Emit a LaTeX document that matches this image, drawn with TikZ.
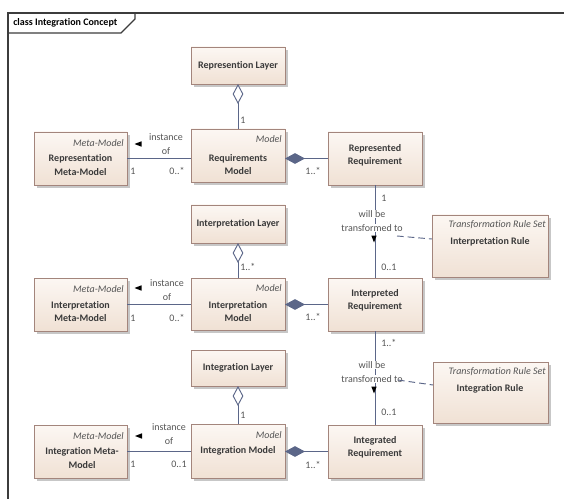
\documentclass[tikz,border=0pt]{standalone}
\usepackage{fontspec}
\setmainfont[Ligatures=NoCommon]{Carlito}
\usetikzlibrary{arrows.meta,shadows,calc}
\definecolor{boxtop}{HTML}{FCF7F3}
\definecolor{boxbot}{HTML}{F0E1D4}
\definecolor{boxline}{HTML}{A3857C}
\definecolor{connc}{HTML}{5B6688}
\definecolor{txtc}{HTML}{3A3A3A}
\definecolor{lblc}{HTML}{555555}
\definecolor{framec}{HTML}{3C3C3C}
\begin{document}
\begin{tikzpicture}[x=0.75pt,y=-0.75pt,
  umlbox/.style={draw=boxline, line width=0.6pt, top color=boxtop, bottom color=boxbot,
    drop shadow={shadow xshift=2pt, shadow yshift=-2pt, fill=black, opacity=0.22},
    inner sep=0pt, outer sep=0pt, anchor=north west},
  boxname/.style={font=\fontsize{7.5}{10}\selectfont\bfseries, text=txtc, align=center, inner sep=0pt},
  stereo/.style={font=\fontsize{7.5}{10}\selectfont\itshape, text=lblc, anchor=east, inner sep=0pt},
  lbl/.style={font=\fontsize{7.5}{10}\selectfont, text=lblc, inner sep=0pt, align=center},
  mult/.style={lbl, anchor=west},
  assoc/.style={draw=connc, line width=0.7pt},
  aggr/.style={assoc, -{Diamond[length=15pt,width=8pt,fill=white,line width=0.7pt]}},
  compo/.style={assoc, -{Diamond[length=15pt,width=8pt,fill=connc,line width=0.7pt]}},
  depend/.style={assoc, dash pattern=on 5pt off 3pt},
  wlbl/.style={lbl, fill=white, inner sep=0.6pt},
  dirmark/.style={fill=black}
]
\useasboundingbox (0,0) rectangle (564,499);
% frame
\draw[framec, line width=0.8pt] (564,13) -- (8,13) -- (8,499);
\draw[framec, line width=0.8pt] (8,33) -- (121,33) -- (135,19) -- (135,13);
\node[font=\fontsize{7.5}{10}\selectfont\bfseries, text=black, anchor=west, inner sep=0pt] (title) at (13,23) {class Integration Concept};

% ---------- boxes ----------
\node[umlbox, minimum width=70.5pt, minimum height=27.75pt] (RL) at (191,47) {};
\node[umlbox, minimum width=69.75pt, minimum height=39.75pt] (RMM) at (34,132) {};
\node[umlbox, minimum width=70.5pt, minimum height=39.75pt] (RM) at (191,129) {};
\node[umlbox, minimum width=70.5pt, minimum height=39.75pt] (RR) at (328,132) {};

\node[umlbox, minimum width=70.5pt, minimum height=28.5pt] (IL) at (191,205) {};
\node[umlbox, minimum width=69.75pt, minimum height=39.75pt] (IMM) at (34,278) {};
\node[umlbox, minimum width=70.5pt, minimum height=39pt] (IM) at (191,278) {};
\node[umlbox, minimum width=70.5pt, minimum height=39.75pt] (IR) at (328,278) {};
\node[umlbox, minimum width=87pt, minimum height=46.5pt] (IRule) at (432,215) {};

\node[umlbox, minimum width=70.5pt, minimum height=27pt] (GL) at (191,350) {};
\node[umlbox, minimum width=69.75pt, minimum height=39.75pt] (GMM) at (34,425) {};
\node[umlbox, minimum width=70.5pt, minimum height=40.5pt] (GM) at (191,424) {};
\node[umlbox, minimum width=70.5pt, minimum height=39.75pt] (GR) at (328,425) {};
\node[umlbox, minimum width=86.25pt, minimum height=45.75pt] (GRule) at (433,362) {};

% ---------- box texts ----------
\node[boxname] (RLt) at (238,65.5) {Represention Layer};
\node[stereo] (RMMs) at (124,143) {Meta-Model};
\node[boxname] (RMMt) at (80.5,165) {Representation\\Meta-Model};
\node[stereo] (RMs) at (282,139) {Model};
\node[boxname] (RMt) at (238,164.5) {Requirements\\Model};
\node[boxname] (RRt) at (375,155) {Represented\\Requirement};

\node[boxname] (ILt) at (238,223.5) {Interpretation Layer};
\node[stereo] (IMMs) at (124,289) {Meta-Model};
\node[boxname] (IMMt) at (80.5,311.5) {Interpretation\\Meta-Model};
\node[stereo] (IMs) at (282,288) {Model};
\node[boxname] (IMt) at (238,311.5) {Interpretation\\Model};
\node[boxname] (IRt) at (375,300) {Interpreted\\Requirement};
\node[stereo] (IRules) at (546,225) {Transformation Rule Set};
\node[boxname] (IRulet) at (490,242) {Interpretation Rule};

\node[boxname] (GLt) at (238,368) {Integration Layer};
\node[stereo] (GMMs) at (124,436) {Meta-Model};
\node[boxname] (GMMt) at (82,458) {Integration Meta-\\Model};
\node[stereo] (GMs) at (282,435) {Model};
\node[boxname] (GMt) at (238,451) {Integration Model};
\node[boxname] (GRt) at (375,447) {Integrated\\Requirement};
\node[stereo] (GRules) at (546,372) {Transformation Rule Set};
\node[boxname] (GRulet) at (490,389) {Integration Rule};

% ---------- aggregation (layer <- model) ----------
\draw[aggr] (RM.north) -- (RL.south);
\draw[aggr] (IM.north) -- (IL.south);
\draw[aggr] (GM.north) -- (GL.south);
\node[mult] (m1) at (240,120) {1};
\node[mult] (m2) at (240,267) {1..*};
\node[mult] (m3) at (240,415) {1};

% ---------- instance of ----------
\draw[assoc] (RMM.east) -- (RM.west |- RMM.east);
\draw[assoc] (IMM.east) -- (IM.west |- IMM.east);
\draw[assoc] (GMM.east) -- (GM.west |- GMM.east);
\node[lbl] (io1) at (166,144) {instance\\of};
\node[lbl] (io2) at (167,290) {instance\\of};
\node[lbl] (io3) at (169,434) {instance\\of};
\fill[dirmark] (134.5,144) -- (141.5,141.3) -- (141.5,146.7) -- cycle;
\fill[dirmark] (134.5,288) -- (141.5,285.3) -- (141.5,290.7) -- cycle;
\fill[dirmark] (135,436) -- (142,433.3) -- (142,438.7) -- cycle;
\node[mult] (a1) at (130,171) {1};
\node[mult] (a2) at (130,318) {1};
\node[mult] (a3) at (130,464) {1};
\node[lbl] (b1) at (177,171) {0..*};
\node[lbl] (b2) at (177,318) {0..*};
\node[lbl] (b3) at (179,464) {0..1};

% ---------- composition (model <- requirement) ----------
\draw[compo] (RR.west) -- (RM.east |- RR.west);
\draw[compo] (IR.west) -- (IM.east |- IR.west);
\draw[compo] (GR.west) -- (GM.east |- GR.west);
\node[lbl] (c1) at (313,171) {1..*};
\node[lbl] (c2) at (313,317) {1..*};
\node[lbl] (c3) at (313,465) {1..*};

% ---------- will be transformed to ----------
\draw[assoc] (RR.south) -- (IR.north);
\draw[assoc] (IR.south) -- (GR.north);
\node[wlbl] (w1a) at (372,214) {will be};
\node[wlbl] (w1b) at (372,228) {transformed to};
\node[wlbl] (w2a) at (372,365) {will be};
\node[wlbl] (w2b) at (372,379) {transformed to};
\fill[dirmark] (371.3,235.5) -- (376.7,235.5) -- (374,242.5) -- cycle;
\fill[dirmark] (371.3,386.5) -- (376.7,386.5) -- (374,393.5) -- cycle;
\node[mult] (d1) at (381,198) {1};
\node[mult] (d2) at (381,267) {0..1};
\node[mult] (d3) at (381,343) {1..*};
\node[mult] (d4) at (381,412) {0..1};

% ---------- dependency to rule sets ----------
\coordinate (k1) at (397,236);
\coordinate (k2) at (398,380);
\draw[depend] (k1) -- ($(IRule.north west)+(0,24)$);
\draw[depend] (k2) -- ($(GRule.north west)+(0,23)$);
\end{tikzpicture}
\end{document}
